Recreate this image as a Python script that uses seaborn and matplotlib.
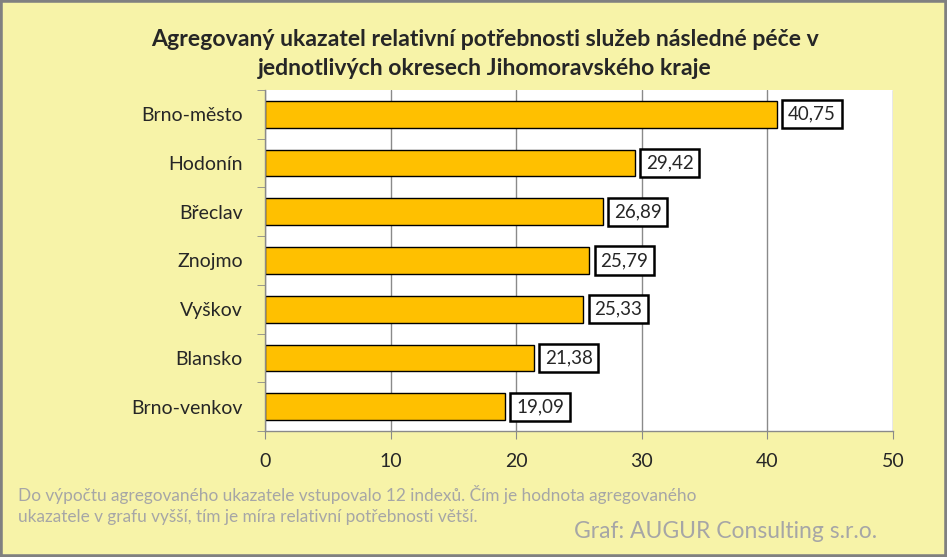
import matplotlib
matplotlib.use("Agg")
import matplotlib.pyplot as plt
import seaborn as sns
import pandas as pd
import numpy as np
from matplotlib.patches import Rectangle

districts = ["Brno-město", "Hodonín", "Břeclav", "Znojmo", "Vyškov", "Blansko", "Brno-venkov"]
values = [40.75, 29.42, 26.89, 25.79, 25.33, 21.38, 19.09]
x_ticks = [0, 10, 20, 30, 40, 50]

title = "Agregovaný ukazatel relativní potřebnosti služeb následné péče v\njednotlivých okresech Jihomoravského kraje"
note = ("Do výpočtu agregovaného ukazatele vstupovalo 12 indexů. Čím je hodnota agregovaného\n"
        "ukazatele v grafu vyšší, tím je míra relativní potřebnosti větší.")
credit = "Graf: AUGUR Consulting s.r.o."

sns.set_style("white")
plt.rcParams["font.family"] = ["Lato", "DejaVu Sans"]

bg = "#F7F3A8"
fig = plt.figure(figsize=(9.47, 5.57), dpi=100, facecolor=bg)
ax = fig.add_axes([265/947, 1-431/557, (893-265)/947, (431-90)/557])
ax.set_facecolor("white")

df = pd.DataFrame({"district": districts, "value": values})
sns.barplot(data=df, x="value", y="district", orient="h", color="#FFC000",
            edgecolor="black", linewidth=1.0, width=0.55, saturation=1, ax=ax)

ax.set_xlim(0, 50)
ax.set_ylim(len(districts) - 0.5, -0.5)
ax.set_xticks(x_ticks)
ax.set_xticklabels([str(t) for t in x_ticks])
ax.set_xlabel("")
ax.set_ylabel("")
ax.grid(axis="x", color="#8A8A8A", linewidth=1.0)
ax.set_axisbelow(True)
for s in ["top", "right"]:
    ax.spines[s].set_visible(False)
for s in ["left", "bottom"]:
    ax.spines[s].set_color("#8A8A8A")
    ax.spines[s].set_linewidth(1.0)

ax.tick_params(axis="x", which="major", direction="out", length=6, color="#8A8A8A",
               labelsize=14, pad=10, bottom=True)
ax.tick_params(axis="y", which="major", length=0, labelsize=14, pad=16)
ax.set_yticks(np.arange(-0.5, len(districts) + 0.5, 1), minor=True)
ax.tick_params(axis="y", which="minor", direction="out", length=6, color="#8A8A8A", left=True)

for i, v in enumerate(values):
    ax.text(v + 0.9, i, f"{v:.2f}".replace(".", ","), va="center", ha="left",
            fontsize=13.5,
            bbox=dict(boxstyle="square,pad=0.3", facecolor="white", edgecolor="black", linewidth=1.8))

fig.text(485/947, 1-54/557, title, ha="center", va="center", fontsize=16.6, fontweight="bold",
         linespacing=1.42)
fig.text(18/947, 1-505/557, note, ha="left", va="center", fontsize=12.4, color="#A6A6A6",
         linespacing=1.4)
fig.text(877/947, 1-531/557, credit, ha="right", va="center", fontsize=16.5, color="#A6A6A6")

fig.patches.append(Rectangle((0, 0), 1, 1, transform=fig.transFigure, fill=False,
                             edgecolor="#808080", linewidth=4, zorder=10))

fig.savefig("out.png", dpi=100, facecolor=bg)
